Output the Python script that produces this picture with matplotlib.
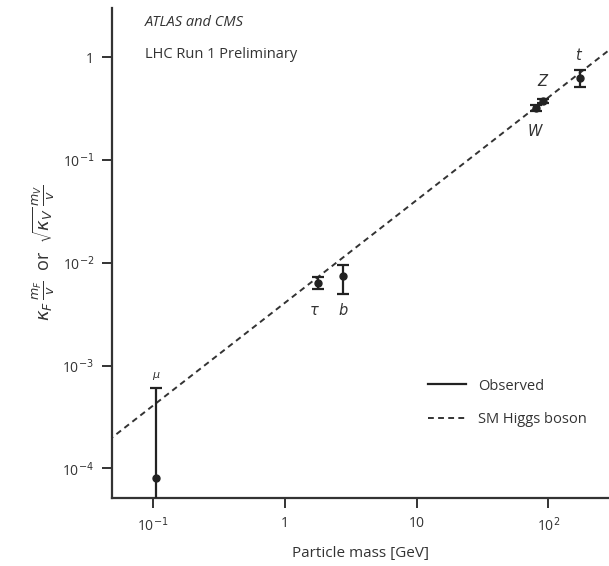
import numpy as np
import matplotlib.pyplot as plt

plt.rcParams['font.family'] = ['Open Sans', 'DejaVu Sans']
plt.rcParams['mathtext.fontset'] = 'dejavusans'

# particle masses [GeV] and measured reduced couplings
particles = ['mu', 'tau', 'b', 'W', 'Z', 't']
labels = [r'$\mu$', r'$\tau$', r'$b$', r'$W$', r'$Z$', r'$t$']
mass = [0.1057, 1.777, 2.76, 80.4, 91.2, 172.5]
coupling = [8.0e-5, 6.4e-3, 7.4e-3, 0.32, 0.375, 0.63]
err_lo = [7.99e-5, 0.8e-3, 2.4e-3, 0.02, 0.02, 0.12]
err_hi = [5.3e-4, 0.8e-3, 2.2e-3, 0.02, 0.02, 0.12]

# SM expectation: m / v
vev = 246.0
sm_mass = [0.04, 400.0]

fig = plt.figure(figsize=(6.09, 5.66), dpi=100)
ax = fig.add_axes([0.184, 0.12, 0.816, 0.866])

dark = '#222222'
ax.errorbar(mass, coupling, yerr=[err_lo, err_hi], fmt='o', color=dark, ms=5,
            elinewidth=1.6, capsize=4, capthick=1.6, zorder=3)
ax.plot([], [], '-', color=dark, lw=1.6, label='Observed')
ax.plot(sm_mass, np.array(sm_mass) / vev, ls=(0, (3, 2.2)), color='#333333', lw=1.4,
        label='SM Higgs boson')

ax.set_xscale('log')
ax.set_yscale('log')
ax.set_xlim(10 ** -1.31, 10 ** 2.46)
ax.set_ylim(10 ** -4.29, 10 ** 0.48)

ax.set_xticks([0.1, 1, 10, 100])
ax.set_xticklabels(['10$^{-1}$', '1', '10', '10$^{2}$'])
ax.set_yticks([1e-4, 1e-3, 1e-2, 1e-1, 1])
ax.set_yticklabels(['10$^{-4}$', '10$^{-3}$', '10$^{-2}$', '10$^{-1}$', '1'])
ax.minorticks_off()
ax.tick_params(direction='out', length=7, width=1.4, color='#333333',
               labelsize=10, labelcolor='#333333', pad=6)

for s in ['top', 'right']:
    ax.spines[s].set_visible(False)
for s in ['left', 'bottom']:
    ax.spines[s].set_linewidth(1.6)
    ax.spines[s].set_color('#333333')

ax.set_xlabel('Particle mass [GeV]', fontsize=11, color='#333333', labelpad=8)
ax.set_ylabel(r'$\kappa_F\,\frac{m_F}{v}$  or  $\sqrt{\kappa_V}\,\frac{m_V}{v}$',
              fontsize=13, color='#333333', labelpad=4)

# particle name annotations
offsets = [(0, 8), (-2, -21), (0, -25), (0, -17), (0, 14), (0, 16)]
tops = [c + h for c, h in zip(coupling, err_hi)]
for i, lab in enumerate(labels):
    base = tops[i] if i == 0 else coupling[i]
    ax.annotate(lab, (mass[i], base), xytext=offsets[i], textcoords='offset points',
                ha='center', va='center', fontsize=10.5 if i else 8, color='#333333')

ax.text(0.066, 0.97, 'ATLAS and CMS', transform=ax.transAxes, style='italic',
        fontsize=10.5, color='#333333', va='center')
ax.text(0.066, 0.905, 'LHC Run 1 Preliminary', transform=ax.transAxes,
        fontsize=10.5, color='#333333', va='center')

ax.legend(loc='center left', bbox_to_anchor=(0.61, 0.194), frameon=False,
          fontsize=10.5, handlelength=2.6, labelspacing=1.3, labelcolor='#333333')

fig.savefig('out.png', dpi=100)
